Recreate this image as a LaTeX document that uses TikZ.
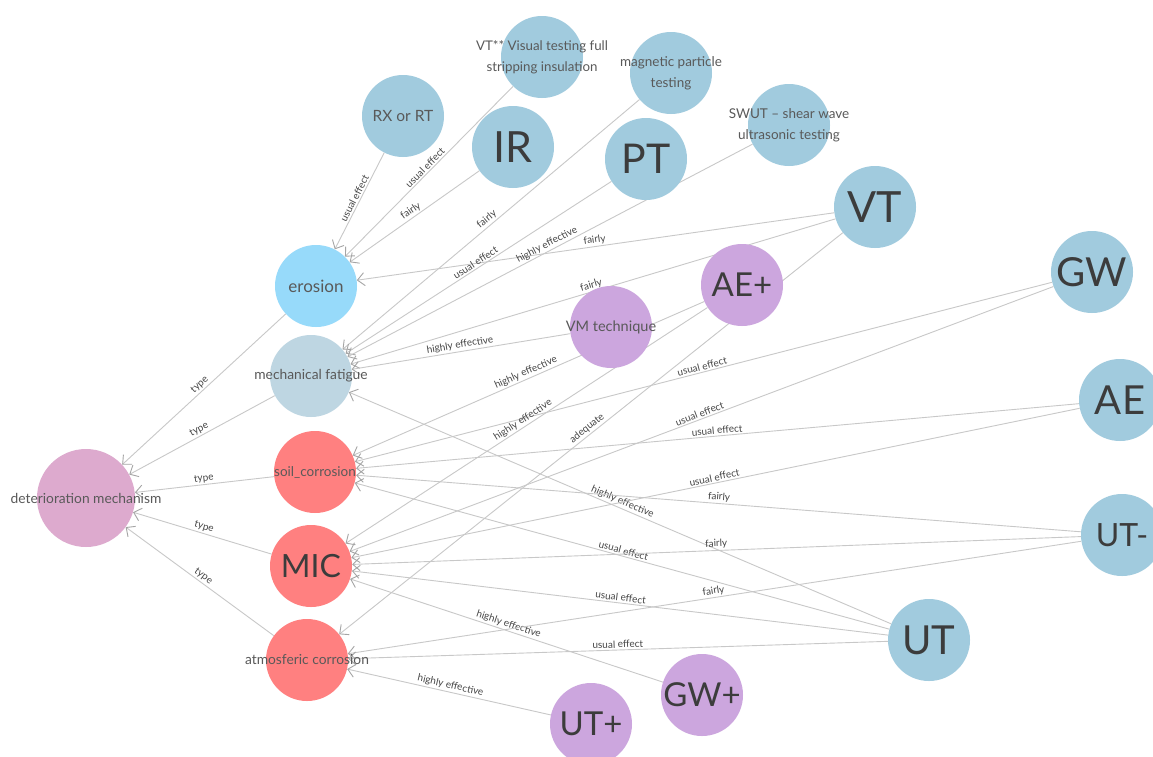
\documentclass[tikz,border=0pt]{standalone}
\usepackage{fontspec}
\setmainfont{Lato}
\usetikzlibrary{arrows.meta}

\definecolor{methodblue}{RGB}{161,203,222}
\definecolor{toolpurple}{RGB}{204,166,222}
\definecolor{damagered}{RGB}{255,128,128}
\definecolor{erosionblue}{RGB}{151,218,250}
\definecolor{fatigueblue}{RGB}{190,214,226}
\definecolor{rootpink}{RGB}{221,170,206}
\definecolor{linkgray}{RGB}{200,200,200}
\definecolor{tipgray}{RGB}{165,165,165}
\definecolor{nametext}{RGB}{60,60,60}
\definecolor{linktext}{RGB}{70,70,70}

\pgfdeclarelayer{bg}
\pgfsetlayers{bg,main}

\begin{document}
\begin{tikzpicture}[x=1pt, y=-1pt]
  \tikzset{
    concept/.style={circle, inner sep=0pt, minimum size=82pt},
    method/.style={concept, fill=methodblue},
    tool/.style={concept, fill=toolpurple},
    damage/.style={concept, fill=damagered},
    bigname/.style={font=\fontsize{#1}{#1}\selectfont, text=nametext},
    smallname/.style={font=\fontsize{#1}{21}\selectfont, text=nametext!85, align=center},
    link/.style={draw=linkgray, line width=0.9pt, -{Straight Barb[length=7pt, width=13pt, line width=0.9pt, color=tipgray]}},
    linklabel/.style={sloped, above, inner sep=1.5pt, font=\fontsize{10}{10}\selectfont, text=linktext}
  }

  \useasboundingbox (0,0) rectangle (1153,756);

  % Root and deterioration types
  \node[concept, minimum size=98pt, fill=rootpink, label={[smallname=13.8]center:deterioration mechanism}] (dm) at (86,498) {};
  \node[concept, fill=erosionblue, label={[smallname=17]center:erosion}] (erosion) at (316,286) {};
  \node[concept, fill=fatigueblue, label={[smallname=13.8]center:mechanical fatigue}] (fatigue) at (311,376) {};
  \node[damage, label={[smallname=13.5]center:soil\_corrosion}] (soil) at (315,472) {};
  \node[damage, bigname=32] (mic) at (311,566) {MIC};
  \node[damage, label={[smallname=13.8]center:atmosferic corrosion}] (atmo) at (307,660) {};

  % Inspection methods
  \node[method, label={[smallname=15.5]center:RX or RT}] (rxrt) at (403,116) {};
  \node[method, label={[smallname=13.3]center:VT** Visual testing full\\stripping insulation}] (vtfull) at (542,57) {};
  \node[method, bigname=43] (ir) at (513,147) {IR};
  \node[method, label={[smallname=13.5]center:magnetic particle\\testing}] (mpt) at (671,73) {};
  \node[method, bigname=41] (pt) at (646,159) {PT};
  \node[method, label={[smallname=13.5]center:SWUT -- shear wave\\ultrasonic testing}] (swut) at (789,125) {};
  \node[method, bigname=43] (vt) at (875,207) {VT};
  \node[method, bigname=40] (gw) at (1092,272) {GW};
  \node[method, bigname=40] (ae) at (1120,400) {AE};
  \node[method, bigname=32] (utminus) at (1122,535) {UT-};
  \node[method, bigname=40] (ut) at (929,640) {UT};

  % Advanced techniques
  \node[tool, bigname=33] (aeplus) at (742,285) {AE+};
  \node[tool, label={[smallname=14.5]center:VM technique}] (vm) at (611,327) {};
  \node[tool, bigname=33] (gwplus) at (702,695) {GW+};
  \node[tool, bigname=33] (utplus) at (591,724) {UT+};

  \begin{pgfonlayer}{bg}
    \fill[white] (0,0) rectangle (1153,756);

    % type links
    \draw[link] (erosion) -- node[linklabel] {type} (dm);
    \draw[link] (fatigue) -- node[linklabel] {type} (dm);
    \draw[link] (soil) -- node[linklabel] {type} (dm);
    \draw[link] (mic) -- node[linklabel] {type} (dm);
    \draw[link] (atmo) -- node[linklabel] {type} (dm);

    % erosion
    \draw[link] (rxrt) -- node[linklabel] {usual effect} (erosion);
    \draw[link] (vtfull) -- node[linklabel] {usual effect} (erosion);
    \draw[link] (ir) -- node[linklabel] {fairly} (erosion);
    \draw[link] (vt) -- node[linklabel] {fairly} (erosion);

    % mechanical fatigue
    \draw[link] (mpt) -- node[linklabel] {fairly} (fatigue);
    \draw[link] (pt) -- node[linklabel] {usual effect} (fatigue);
    \draw[link] (swut) -- node[linklabel] {highly effective} (fatigue);
    \draw[link] (vt) -- node[linklabel] {fairly} (fatigue);
    \draw[link] (vm) -- node[linklabel] {highly effective} (fatigue);
    \draw[link] (ut) -- node[linklabel] {highly effective} (fatigue);

    % soil corrosion
    \draw[link] (aeplus) -- node[linklabel] {highly effective} (soil);
    \draw[link] (gw) -- node[linklabel] {usual effect} (soil);
    \draw[link] (ae) -- node[linklabel] {usual effect} (soil);
    \draw[link] (utminus) -- node[linklabel] {fairly} (soil);
    \draw[link] (ut) -- node[linklabel] {usual effect} (soil);

    % MIC
    \draw[link] (aeplus) -- node[linklabel] {highly effective} (mic);
    \draw[link] (gw) -- node[linklabel] {usual effect} (mic);
    \draw[link] (ae) -- node[linklabel] {usual effect} (mic);
    \draw[link] (utminus) -- node[linklabel] {fairly} (mic);
    \draw[link] (ut) -- node[linklabel] {usual effect} (mic);
    \draw[link] (gwplus) -- node[linklabel] {highly effective} (mic);

    % atmosferic corrosion
    \draw[link] (vt) -- node[linklabel] {adequate} (atmo);
    \draw[link] (utminus) -- node[linklabel] {fairly} (atmo);
    \draw[link] (ut) -- node[linklabel] {usual effect} (atmo);
    \draw[link] (utplus) -- node[linklabel] {highly effective} (atmo);
  \end{pgfonlayer}
\end{tikzpicture}
\end{document}
